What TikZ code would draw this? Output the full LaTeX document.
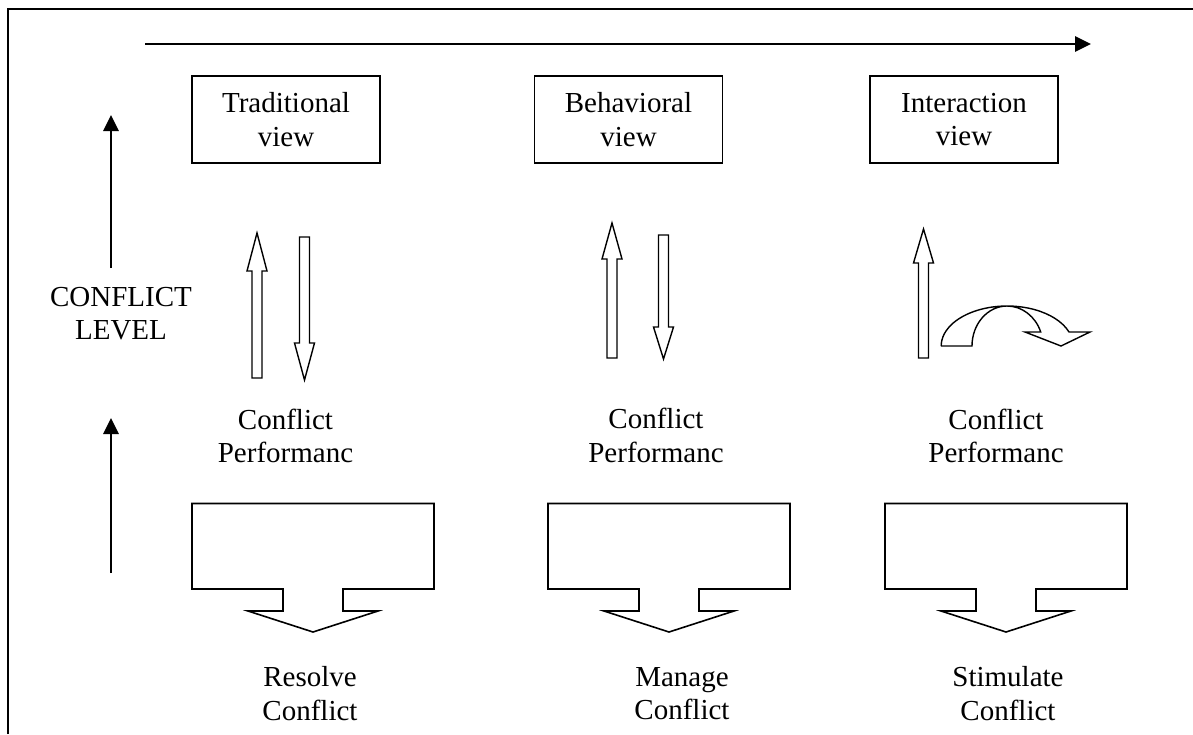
\documentclass[tikz,border=0pt]{standalone}
\usepackage{fontspec}
\setmainfont{Liberation Serif}
\usetikzlibrary{arrows.meta}

\begin{document}
\begin{tikzpicture}[x=1pt,y=-1pt,
  txt/.style={font=\fontsize{29}{33.5}\selectfont, align=center, inner sep=0pt},
  viewbox/.style={txt, draw, line width=1.4pt, minimum width=188pt, minimum height=87pt},
  axis/.style={line width=2.8pt, -{Triangle[length=16pt,width=15pt]}},
  hollow/.style={draw, line width=1.4pt, fill=white, line join=miter},
  callout/.style={draw, line width=1.6pt, line join=miter}]
\useasboundingbox (0,0) rectangle (1193,734);

% open frame: top and left edges only
\coordinate (fo) at (8,9);
\draw[line width=2pt] (8,734) -- (fo) -- (1193,9);

% axes
\coordinate (hx0) at (145,44);
\coordinate (hx1) at (1091,44);
\draw[axis] (hx0) -- (hx1);
\coordinate (va0) at (111,268);
\coordinate (va1) at (111,115);
\draw[axis] (va0) -- (va1);
\coordinate (vb0) at (111,573);
\coordinate (vb1) at (111,418);
\draw[axis] (vb0) -- (vb1);

\node[txt] (level) at (121,313.8) {CONFLICT\\LEVEL};

% the three views
\node[viewbox] (trad) at (286,119.5) {Traditional\\view};
\node[viewbox] (beh)  at (628.5,119.5) {Behavioral\\view};
\node[viewbox] (inter) at (964,119.5) {Interaction\\view};

% hollow block arrows: traditional
\path[hollow] (252,378) -- (252,271) -- (247,271) -- (257,233) -- (267,271) -- (262,271) -- (262,378) -- cycle;
\path[hollow] (299.5,237) -- (309.5,237) -- (309.5,343) -- (314.5,343) -- (304.5,380) -- (294.5,343) -- (299.5,343) -- cycle;
% behavioral
\path[hollow] (607,358) -- (607,259) -- (602,259) -- (612,223) -- (622,259) -- (617,259) -- (617,358) -- cycle;
\path[hollow] (658.5,235) -- (668.5,235) -- (668.5,327) -- (673.5,327) -- (663.5,359) -- (653.5,327) -- (658.5,327) -- cycle;
% interaction
\path[hollow] (918.5,358) -- (918.5,263) -- (913.5,263) -- (923.5,229) -- (933.5,263) -- (928.5,263) -- (928.5,358) -- cycle;
% curved arrow turning over to the right
\path[hollow] (941,346) -- (972,346)
  arc[start angle=180, end angle=90, x radius=35pt, y radius=40pt]
  arc[start angle=90, end angle=20.5, x radius=36pt, y radius=40pt]
  -- (1025,332) -- (1061,346) -- (1090,332) -- (1069,332)
  arc[start angle=20.5, end angle=180, x radius=66pt, y radius=40pt]
  -- cycle;

% performance labels
\node[txt] (cp1) at (285.5,435.8) {Conflict\\Performanc};
\node[txt] (cp2) at (656,435.3) {Conflict\\Performanc};
\node[txt] (cp3) at (996,435.8) {Conflict\\Performanc};

% down-arrow callouts
\foreach \c in {313,669,1006}{
  \draw[callout] ({\c-121},503.5) -- ({\c+121},503.5) -- ({\c+121},589) -- ({\c+30},589)
    -- ({\c+30},611) -- ({\c+65},611) -- (\c,632) -- ({\c-65},611) -- ({\c-30},611)
    -- ({\c-30},589) -- ({\c-121},589) -- cycle;
}

% outcomes
\node[txt] (res) at (310,693.8) {Resolve\\Conflict};
\node[txt] (man) at (682,693.8) {Manage\\Conflict};
\node[txt] (sti) at (1008,693.8) {Stimulate\\Conflict};
\end{tikzpicture}
\end{document}
